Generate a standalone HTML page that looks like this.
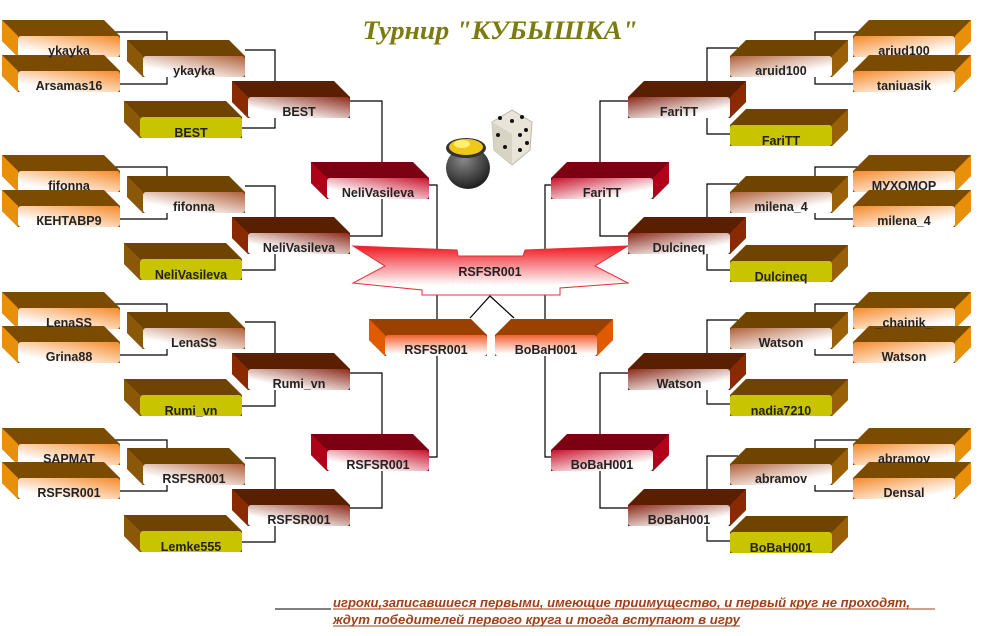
<!DOCTYPE html>
<html><head><meta charset="utf-8"><style>
html,body{margin:0;padding:0;background:#fff;}
svg{display:block;}
.t{font-family:"Liberation Sans","DejaVu Sans",sans-serif;font-weight:bold;font-size:12.5px;fill:#222;text-anchor:middle;}
</style></head><body>
<svg width="1002" height="636" viewBox="0 0 1002 636" xmlns="http://www.w3.org/2000/svg">
<defs>
<linearGradient id="gL1" x1="0" y1="1" x2="1" y2="0"><stop offset="0.2" stop-color="#fff"/><stop offset="1" stop-color="#f58a2a"/></linearGradient>
<linearGradient id="gR1" x1="1" y1="1" x2="0" y2="0"><stop offset="0.2" stop-color="#fff"/><stop offset="1" stop-color="#f58a2a"/></linearGradient>
<linearGradient id="gL2" x1="0" y1="1" x2="1" y2="0"><stop offset="0.25" stop-color="#fff"/><stop offset="1" stop-color="#b0603a"/></linearGradient>
<linearGradient id="gR2" x1="1" y1="1" x2="0" y2="0"><stop offset="0.25" stop-color="#fff"/><stop offset="1" stop-color="#b0603a"/></linearGradient>
<linearGradient id="gL3" x1="0" y1="1" x2="1" y2="0"><stop offset="0.25" stop-color="#fff"/><stop offset="1" stop-color="#8a2a1a"/></linearGradient>
<linearGradient id="gR3" x1="1" y1="1" x2="0" y2="0"><stop offset="0.25" stop-color="#fff"/><stop offset="1" stop-color="#8a2a1a"/></linearGradient>
<linearGradient id="gL4" x1="0" y1="1" x2="1" y2="0"><stop offset="0.25" stop-color="#fff"/><stop offset="1" stop-color="#c8102a"/></linearGradient>
<linearGradient id="gR4" x1="1" y1="1" x2="0" y2="0"><stop offset="0.25" stop-color="#fff"/><stop offset="1" stop-color="#c8102a"/></linearGradient>
<linearGradient id="gO" x1="0" y1="1" x2="0" y2="0"><stop offset="0.1" stop-color="#fff"/><stop offset="1" stop-color="#f06030"/></linearGradient>
<linearGradient id="gStar" x1="0" y1="0" x2="0" y2="1"><stop offset="0" stop-color="#f01820"/><stop offset="0.8" stop-color="#fff"/></linearGradient>
<radialGradient id="gPot" cx="0.4" cy="0.3" r="0.8"><stop offset="0" stop-color="#888"/><stop offset="1" stop-color="#111"/></radialGradient>

<g id="bL1"><polygon points="-16,-16 86,-16 102,0 102,21 0,21 -16,5" fill="#7a4b00"/><polygon points="-16,-16 0,0 0,21 -16,5" fill="#e8900a"/><rect width="102" height="21" rx="3" fill="url(#gL1)"/></g>
<g id="bR1"><polygon points="0,0 16,-16 118,-16 118,5 102,21 0,21" fill="#7a4b00"/><polygon points="102,0 118,-16 118,5 102,21" fill="#e8900a"/><rect width="102" height="21" rx="3" fill="url(#gR1)"/></g>
<g id="bL2"><polygon points="-16,-16 86,-16 102,0 102,21 0,21 -16,5" fill="#6e4400"/><polygon points="-16,-16 0,0 0,21 -16,5" fill="#8a5808"/><rect width="102" height="21" rx="3" fill="url(#gL2)"/></g>
<g id="bR2"><polygon points="0,0 16,-16 118,-16 118,5 102,21 0,21" fill="#6e4400"/><polygon points="102,0 118,-16 118,5 102,21" fill="#9a6008"/><rect width="102" height="21" rx="3" fill="url(#gR2)"/></g>
<g id="bLY"><polygon points="-16,-16 86,-16 102,0 102,21 0,21 -16,5" fill="#6e4400"/><polygon points="-16,-16 0,0 0,21 -16,5" fill="#8a5808"/><rect width="102" height="21" rx="3" fill="#c8c400"/></g>
<g id="bRY"><polygon points="0,0 16,-16 118,-16 118,5 102,21 0,21" fill="#6e4400"/><polygon points="102,0 118,-16 118,5 102,21" fill="#9a6008"/><rect width="102" height="21" rx="3" fill="#c8c400"/></g>
<g id="bL3"><polygon points="-16,-16 86,-16 102,0 102,21 0,21 -16,5" fill="#5a1e00"/><polygon points="-16,-16 0,0 0,21 -16,5" fill="#8a2a00"/><rect width="102" height="21" rx="3" fill="url(#gL3)"/></g>
<g id="bR3"><polygon points="0,0 16,-16 118,-16 118,5 102,21 0,21" fill="#5a1e00"/><polygon points="102,0 118,-16 118,5 102,21" fill="#8a2a00"/><rect width="102" height="21" rx="3" fill="url(#gR3)"/></g>
<g id="bL4"><polygon points="-16,-16 86,-16 102,0 102,21 0,21 -16,5" fill="#7a0012"/><polygon points="-16,-16 0,0 0,21 -16,5" fill="#b0001a"/><rect width="102" height="21" rx="3" fill="url(#gL4)"/></g>
<g id="bR4"><polygon points="0,0 16,-16 118,-16 118,5 102,21 0,21" fill="#7a0012"/><polygon points="102,0 118,-16 118,5 102,21" fill="#b0001a"/><rect width="102" height="21" rx="3" fill="url(#gR4)"/></g>
<g id="bLO"><polygon points="-16,-16 86,-16 102,0 102,21 0,21 -16,5" fill="#9a4000"/><polygon points="-16,-16 0,0 0,21 -16,5" fill="#e05a00"/><rect width="102" height="21" rx="3" fill="url(#gO)"/></g>
<g id="bRO"><polygon points="0,0 16,-16 118,-16 118,5 102,21 0,21" fill="#9a4000"/><polygon points="102,0 118,-16 118,5 102,21" fill="#e05a00"/><rect width="102" height="21" rx="3" fill="url(#gO)"/></g>
</defs>

<text x="500" y="39" text-anchor="middle" textLength="275" lengthAdjust="spacingAndGlyphs" style="font-family:'Liberation Serif','DejaVu Serif',serif;font-style:italic;font-weight:bold;font-size:26px;fill:#7b7b0f;">Турнир "КУБЫШКА"</text>

<path fill="none" stroke="#000" stroke-width="1.2" d="
M115,32H167V40 M120,84H167V77 M245,50H275V81 M242,128H275V118
M115,167H167V176 M120,219H167V213 M245,186H275V217 M242,270H275V254
M115,304H167V312 M120,355H167V349 M245,322H275V353 M242,406H275V390
M115,440H167V448 M120,491H167V485 M245,458H275V489 M242,542H275V526
M350,101H382V162 M350,236H382V199 M350,373H382V434 M350,508H382V471
M429,185H437V457H429
M858,32H815V40 M853,84H815V77 M738,48H707V81 M730,134H707V118
M858,167H815V176 M853,219H815V213 M738,184H707V217 M730,270H707V254
M858,304H815V312 M853,355H815V349 M738,320H707V353 M730,404H707V390
M858,440H815V448 M853,491H815V485 M738,456H707V489 M730,541H707V526
M636,101H600V162 M628,236H600V199 M636,373H600V434 M628,508H600V471
M560,185H545V457H560
M470,318L490,296L514,318"/>

<!-- pot & dice -->
<g>
<polygon points="492,122 512,110 532,122 530,150 512,165 494,150" fill="#e8e4d8" stroke="#bbb8a8"/>
<polygon points="492,122 512,134 512,165 494,150" fill="#d8d4c4"/>
<g fill="#111"><circle cx="500" cy="118" r="2"/><circle cx="512" cy="121" r="2"/><circle cx="522" cy="117" r="2"/><circle cx="498" cy="135" r="2"/><circle cx="505" cy="147" r="2"/><circle cx="520" cy="135" r="2"/><circle cx="526" cy="130" r="2"/><circle cx="520" cy="150" r="2"/><circle cx="527" cy="143" r="2"/></g>
<ellipse cx="468" cy="168" rx="22" ry="21" fill="url(#gPot)"/>
<ellipse cx="466" cy="148" rx="20" ry="10" fill="#333"/>
<ellipse cx="466" cy="147" rx="17" ry="8" fill="#f0c818"/>
<ellipse cx="462" cy="144" rx="8" ry="4" fill="#fff070"/>
</g>

<!-- center star -->
<polygon points="353,246 457,250 458,256 523,256 525,250 628,246 595,266 628,283 560,288 560,295 422,295 422,290 353,283 385,266" fill="url(#gStar)" stroke="#e0303a" stroke-width="1"/>

<!-- boxes -->
<use href="#bL1" x="18" y="36"/><use href="#bL1" x="18" y="71"/>
<use href="#bL1" x="18" y="171"/><use href="#bL1" x="18" y="206"/>
<use href="#bL1" x="18" y="308"/><use href="#bL1" x="18" y="342"/>
<use href="#bL1" x="18" y="444"/><use href="#bL1" x="18" y="478"/>
<use href="#bL2" x="143" y="56"/><use href="#bL2" x="143" y="192"/><use href="#bL2" x="143" y="328"/><use href="#bL2" x="143" y="464"/>
<use href="#bLY" x="140" y="117"/><use href="#bLY" x="140" y="259"/><use href="#bLY" x="140" y="395"/><use href="#bLY" x="140" y="531"/>
<use href="#bL3" x="248" y="97"/><use href="#bL3" x="248" y="233"/><use href="#bL3" x="248" y="369"/><use href="#bL3" x="248" y="505"/>
<use href="#bL4" x="327" y="178"/><use href="#bL4" x="327" y="450"/>
<use href="#bLO" x="385" y="335"/><use href="#bRO" x="495" y="335"/>
<use href="#bR1" x="853" y="36"/><use href="#bR1" x="853" y="71"/>
<use href="#bR1" x="853" y="171"/><use href="#bR1" x="853" y="206"/>
<use href="#bR1" x="853" y="308"/><use href="#bR1" x="853" y="342"/>
<use href="#bR1" x="853" y="444"/><use href="#bR1" x="853" y="478"/>
<use href="#bR2" x="730" y="56"/><use href="#bR2" x="730" y="192"/><use href="#bR2" x="730" y="328"/><use href="#bR2" x="730" y="464"/>
<use href="#bRY" x="730" y="125"/><use href="#bRY" x="730" y="261"/><use href="#bRY" x="730" y="395"/><use href="#bRY" x="730" y="532"/>
<use href="#bR3" x="628" y="97"/><use href="#bR3" x="628" y="233"/><use href="#bR3" x="628" y="369"/><use href="#bR3" x="628" y="505"/>
<use href="#bR4" x="551" y="178"/><use href="#bR4" x="551" y="450"/>

<!-- texts -->
<text class="t" x="490" y="276">RSFSR001</text>
<text class="t" x="69" y="55">ykayka</text>
<text class="t" x="69" y="90">Arsamas16</text>
<text class="t" x="69" y="190">fifonna</text>
<text class="t" x="69" y="225">КЕНТАВР9</text>
<text class="t" x="69" y="327">LenaSS</text>
<text class="t" x="69" y="361">Grina88</text>
<text class="t" x="69" y="463">SAPMAT</text>
<text class="t" x="69" y="497">RSFSR001</text>
<text class="t" x="194" y="75">ykayka</text>
<text class="t" x="194" y="211">fifonna</text>
<text class="t" x="194" y="347">LenaSS</text>
<text class="t" x="194" y="483">RSFSR001</text>
<text class="t" x="191" y="137">BEST</text>
<text class="t" x="191" y="279">NeliVasileva</text>
<text class="t" x="191" y="415">Rumi_vn</text>
<text class="t" x="191" y="551">Lemke555</text>
<text class="t" x="299" y="116">BEST</text>
<text class="t" x="299" y="252">NeliVasileva</text>
<text class="t" x="299" y="388">Rumi_vn</text>
<text class="t" x="299" y="524">RSFSR001</text>
<text class="t" x="378" y="197">NeliVasileva</text>
<text class="t" x="378" y="469">RSFSR001</text>
<text class="t" x="436" y="354">RSFSR001</text>
<text class="t" x="546" y="354">BoBaH001</text>
<text class="t" x="904" y="55">ariud100</text>
<text class="t" x="904" y="90">taniuasik</text>
<text class="t" x="904" y="190">МУХОМОР</text>
<text class="t" x="904" y="225">milena_4</text>
<text class="t" x="904" y="327">_chainik_</text>
<text class="t" x="904" y="361">Watson</text>
<text class="t" x="904" y="463">abramov</text>
<text class="t" x="904" y="497">Densal</text>
<text class="t" x="781" y="75">aruid100</text>
<text class="t" x="781" y="211">milena_4</text>
<text class="t" x="781" y="347">Watson</text>
<text class="t" x="781" y="483">abramov</text>
<text class="t" x="781" y="145">FariTT</text>
<text class="t" x="781" y="281">Dulcineq</text>
<text class="t" x="781" y="415">nadia7210</text>
<text class="t" x="781" y="552">BoBaH001</text>
<text class="t" x="679" y="116">FariTT</text>
<text class="t" x="679" y="252">Dulcineq</text>
<text class="t" x="679" y="388">Watson</text>
<text class="t" x="679" y="524">BoBaH001</text>
<text class="t" x="602" y="197">FariTT</text>
<text class="t" x="602" y="469">BoBaH001</text>

<!-- footnote -->
<line x1="275" y1="609" x2="331" y2="609" stroke="#000" stroke-width="1"/>
<line x1="333" y1="609" x2="935" y2="609" stroke="#a0401a" stroke-width="1"/>
<line x1="333" y1="626" x2="740" y2="626" stroke="#a0401a" stroke-width="1"/>
<g style="font-family:'Liberation Sans','DejaVu Sans',sans-serif;font-style:italic;font-weight:bold;font-size:12.5px;fill:#a0401a;">
<text x="333" y="607" textLength="577" lengthAdjust="spacingAndGlyphs">игроки,записавшиеся первыми, имеющие приимущество, и первый круг не проходят,</text>
<text x="333" y="624" textLength="407" lengthAdjust="spacingAndGlyphs">ждут победителей первого круга и тогда вступают в игру</text>
</g>
</svg>
</body></html>
